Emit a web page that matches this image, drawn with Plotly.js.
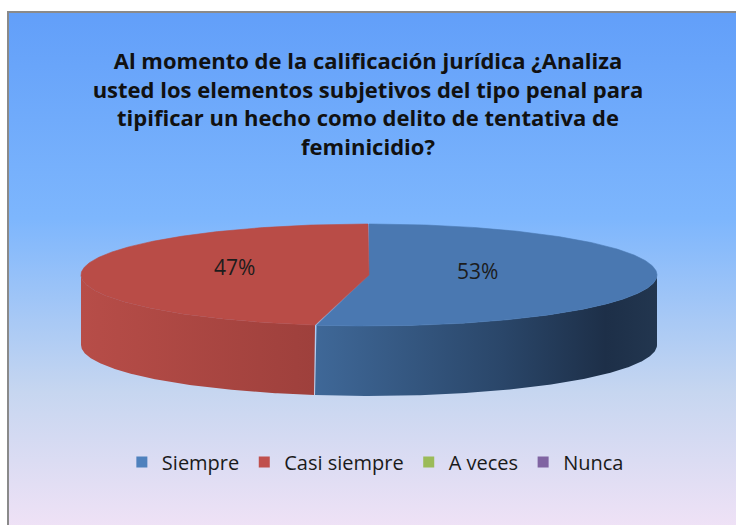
<!DOCTYPE html>
<html>
<head>
<meta charset="utf-8">
<script src="https://cdn.plot.ly/plotly-3.0.1.min.js"></script>
<style>
  html, body { margin: 0; padding: 0; background: #ffffff; overflow: hidden; }
  #bg {
    position: absolute; left: 7px; top: 11px; width: 760px; height: 540px;
    border-left: 2px solid #8a8a8a; border-top: 2px solid #8a8a8a;
    background: linear-gradient(to bottom, #629ff9 0%, #7db6fd 38%, #c6d6f0 70%, #f7e4f7 100%);
  }
  #chart { position: absolute; left: 0; top: 0; width: 736px; height: 525px; }
</style>
</head>
<body>
<div id="bg"></div>
<div id="chart"></div>
<script>
// ---- data ----
const categories = ['Siempre', 'Casi siempre', 'A veces', 'Nunca'];
const values = [53, 47, 0, 0];
const titleText = 'Al momento de la calificación jurídica ¿Analiza<br>usted los elementos subjetivos del tipo penal para<br>tipificar un hecho como delito de tentativa de<br>feminicidio?';

// ---- styles ----
const topColors = ['#4a78b1', '#b94c47', '#98b954', '#7d60a0'];
const sideScales = [
  [[0, '#3f6898'], [0.55, '#2a4669'], [0.85, '#1d2f48'], [1, '#22364f']],
  [[0, '#b74d48'], [1, '#9e403c']],
  [[0, '#7a9443'], [1, '#5f7434']],
  [[0, '#644c80'], [1, '#4e3b64']]
];
const legendColors = ['#4f81bd', '#c0504d', '#9bbb59', '#8064a2'];

// pie geometry (pixel space)
const cx = 369, cy = 275, rx = 288, ry = 51, depth = 70;

function pt(theta, dy) {
  const r = theta * Math.PI / 180;
  return [cx + rx * Math.sin(r), cy - ry * Math.cos(r) + dy];
}

const total = values.reduce((a, b) => a + b, 0);
const starts = [], ends = [];
let acc = 0;
values.forEach(v => { starts.push(acc / total * 360); acc += v; ends.push(acc / total * 360); });

const traces = [];

// side walls (front visible part: 90..270 deg clockwise from top)
values.forEach((v, i) => {
  if (v <= 0) return;
  const s0 = Math.max(starts[i], 90), s1 = Math.min(ends[i], 270);
  if (s1 <= s0) return;
  const xs = [], ys = [];
  for (let t = s0; t <= s1 + 1e-9; t += 0.5) { const p = pt(Math.min(t, s1), 0); xs.push(p[0]); ys.push(p[1]); }
  for (let t = s1; t >= s0 - 1e-9; t -= 0.5) { const p = pt(Math.max(t, s0), depth); xs.push(p[0]); ys.push(p[1]); }
  traces.push({
    type: 'scatter', x: xs, y: ys, mode: 'lines', fill: 'toself',
    line: { width: 0, color: topColors[i] },
    fillgradient: { type: 'horizontal', colorscale: sideScales[i] },
    fillcolor: topColors[i],
    hoverinfo: 'skip', showlegend: false
  });
});

// top faces
values.forEach((v, i) => {
  if (v <= 0) return;
  const xs = [cx], ys = [cy];
  for (let t = starts[i]; t <= ends[i] + 1e-9; t += 0.5) { const p = pt(Math.min(t, ends[i]), 0); xs.push(p[0]); ys.push(p[1]); }
  xs.push(cx); ys.push(cy);
  traces.push({
    type: 'scatter', x: xs, y: ys, mode: 'lines', fill: 'toself',
    line: { width: 0.6, color: topColors[i] }, fillcolor: topColors[i],
    hoverinfo: 'skip', showlegend: false
  });
});

// legend entries
categories.forEach((c, i) => {
  traces.push({
    type: 'scatter', x: [null], y: [null], mode: 'markers', name: c,
    marker: { symbol: 'square', size: 11, color: legendColors[i] },
    hoverinfo: 'skip', showlegend: true
  });
});

// percentage labels at sector centroids
const annotations = [];
values.forEach((v, i) => {
  if (v <= 0) return;
  const half = (ends[i] - starts[i]) / 2 * Math.PI / 180;
  const f = (2 / 3) * Math.sin(half) / half;
  const mid = (starts[i] + ends[i]) / 2 * Math.PI / 180;
  annotations.push({
    x: cx + rx * f * Math.sin(mid) - 6, y: cy - ry * f * Math.cos(mid) - 6,
    xref: 'x', yref: 'y', showarrow: false,
    text: Math.round(100 * v / total) + '%',
    font: { family: 'Open Sans', size: 21, color: '#1c1c1c' }
  });
});

const layout = {
  width: 736, height: 525,
  margin: { l: 0, r: 0, t: 0, b: 0 },
  paper_bgcolor: 'rgba(0,0,0,0)', plot_bgcolor: 'rgba(0,0,0,0)',
  title: {
    text: titleText, x: 0.5, xanchor: 'center', y: 1 - 69 / 525, yanchor: 'top', yref: 'container',
    font: { family: 'Open Sans', size: 22, color: '#111111', weight: 'bold' }
  },
  xaxis: { range: [0, 736], visible: false, fixedrange: true },
  yaxis: { range: [525, 0], visible: false, fixedrange: true },
  showlegend: true,
  legend: {
    orientation: 'h', x: 0.51, xanchor: 'center', y: 1 - 462 / 525, yanchor: 'middle',
    bgcolor: 'rgba(0,0,0,0)', traceorder: 'normal',
    font: { family: 'Open Sans', size: 20, color: '#1a1a1a' }
  },
  annotations: annotations
};

Plotly.newPlot('chart', traces, layout, { displayModeBar: false, staticPlot: true });
</script>
</body>
</html>
